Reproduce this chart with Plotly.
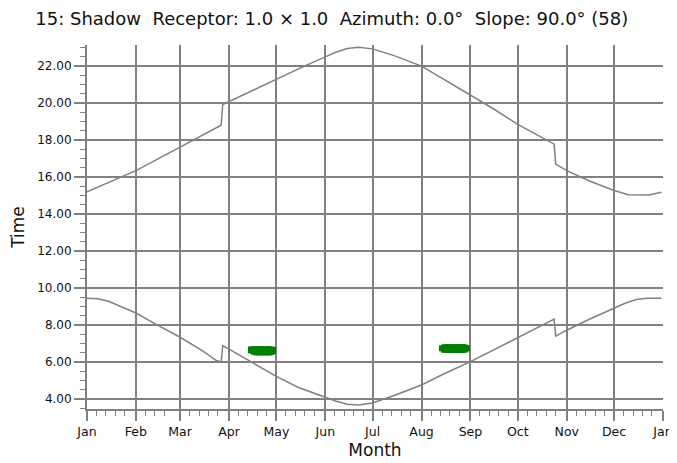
import plotly.graph_objects as go

# ---- data ----
sunset_dates = ["2021-01-01", "2021-01-15", "2021-02-01", "2021-02-15", "2021-03-01", "2021-03-15",
                "2021-03-27", "2021-03-28", "2021-04-01", "2021-04-15", "2021-05-01", "2021-05-15",
                "2021-06-01", "2021-06-08", "2021-06-15", "2021-06-22", "2021-07-01", "2021-07-08",
                "2021-07-15", "2021-08-01", "2021-08-15", "2021-09-01", "2021-09-15", "2021-10-01",
                "2021-10-15", "2021-10-24", "2021-10-25", "2021-11-01", "2021-11-15", "2021-12-01",
                "2021-12-10", "2021-12-23", "2021-12-31"]
sunset_times = [15.20, 15.70, 16.35, 16.98, 17.62, 18.22,
                18.80, 19.92, 20.08, 20.68, 21.30, 21.85,
                22.50, 22.76, 22.95, 23.02, 22.93, 22.75,
                22.55, 22.00, 21.30, 20.45, 19.72, 18.85,
                18.20, 17.78, 16.70, 16.35, 15.80, 15.27,
                15.05, 15.03, 15.18]

sunrise_dates = ["2021-01-01", "2021-01-08", "2021-01-15", "2021-02-01", "2021-02-15", "2021-03-01",
                 "2021-03-15", "2021-03-24", "2021-03-27", "2021-03-28", "2021-04-01", "2021-04-15",
                 "2021-05-01", "2021-05-15", "2021-06-01", "2021-06-08", "2021-06-15", "2021-06-22",
                 "2021-07-01", "2021-07-08", "2021-07-15", "2021-08-01", "2021-08-15", "2021-09-01",
                 "2021-09-15", "2021-10-01", "2021-10-15", "2021-10-24", "2021-10-25", "2021-11-01",
                 "2021-11-15", "2021-12-01", "2021-12-08", "2021-12-15", "2021-12-22", "2021-12-31"]
sunrise_times = [9.45, 9.42, 9.27, 8.65, 7.98, 7.34,
                 6.62, 6.08, 6.00, 6.88, 6.70, 6.02,
                 5.22, 4.62, 4.10, 3.88, 3.72, 3.68,
                 3.78, 3.98, 4.20, 4.76, 5.35, 6.02,
                 6.62, 7.32, 7.92, 8.32, 7.40, 7.72,
                 8.30, 8.90, 9.18, 9.38, 9.45, 9.45]

shadow1_dates = ["2021-04-%02d" % d for d in range(14, 31)]
shadow1_start = [6.47, 6.45, 6.40, 6.36, 6.35, 6.35, 6.35, 6.35, 6.35, 6.35, 6.35, 6.35, 6.35, 6.35, 6.36, 6.38, 6.42]
shadow1_end = [6.84, 6.85, 6.86, 6.86, 6.86, 6.86, 6.86, 6.86, 6.86, 6.86, 6.86, 6.86, 6.86, 6.86, 6.85, 6.84, 6.82]

shadow2_dates = ["2021-08-%02d" % d for d in range(13, 32)]
shadow2_start = [6.58, 6.52, 6.50, 6.49, 6.49, 6.49, 6.49, 6.49, 6.49, 6.49, 6.49, 6.49, 6.49, 6.49, 6.49, 6.49, 6.50, 6.52, 6.58]
shadow2_end = [6.90, 6.94, 6.96, 6.97, 6.97, 6.97, 6.97, 6.97, 6.97, 6.97, 6.97, 6.97, 6.97, 6.97, 6.97, 6.97, 6.96, 6.94, 6.90]

title_text = "15: Shadow\u00a0\u00a0Receptor: 1.0 × 1.0\u00a0\u00a0Azimuth: 0.0°\u00a0\u00a0Slope: 90.0° (58)"

# ---- figure ----
GRID = "#808080"
LINE = "#808080"
GREEN = "#007f00"
TXT = "#111111"
FONT = "DejaVu Sans, Verdana, sans-serif"

fig = go.Figure()
for d, s, e in [(shadow1_dates, shadow1_start, shadow1_end), (shadow2_dates, shadow2_start, shadow2_end)]:
    fig.add_trace(go.Bar(x=d, y=[b - a for a, b in zip(s, e)], base=s, width=86400000,
                         marker=dict(color=GREEN, line=dict(width=0)), hoverinfo="skip"))
fig.add_trace(go.Scatter(x=sunset_dates, y=sunset_times, mode="lines",
                         line=dict(color=LINE, width=1.5), hoverinfo="skip"))
fig.add_trace(go.Scatter(x=sunrise_dates, y=sunrise_times, mode="lines",
                         line=dict(color=LINE, width=1.5), hoverinfo="skip"))

# minor tick positions on the x axis (about weekly within each month)
month_len = [31, 28, 31, 30, 31, 30, 31, 31, 30, 31, 30, 31]
minor_x = []
for m, n in enumerate(month_len, start=1):
    d = 7
    while d <= n - 4:
        minor_x.append("2021-%02d-%02d" % (m, d))
        d += 6

# the page body has an 8px margin, so the figure is sized to end at the window edge
fig.update_layout(
    width=669, height=455,
    margin=dict(l=79, r=14, t=37, b=54),
    paper_bgcolor="white", plot_bgcolor="white",
    showlegend=False,
    font=dict(family=FONT, color=TXT, size=12),
    title=dict(text=title_text, x=0.484, xanchor="center", y=1 - 11 / 455, yanchor="middle",
               yref="container", font=dict(size=18, color=TXT)),
    xaxis=dict(type="date", range=["2021-01-01", "2022-01-01"], tick0="2021-01-01", dtick="M1",
               tickformat="%b", ticks="outside", ticklen=10, tickwidth=1.5, tickcolor=GRID,
               showgrid=True, gridcolor=GRID, gridwidth=2, automargin=False,
               showline=True, linecolor=GRID, linewidth=2, zeroline=False,
               tickfont=dict(size=12.5, color=TXT),
               minor=dict(tickmode="array", tickvals=minor_x, ticks="outside", ticklen=5,
                          tickwidth=1.2, tickcolor=GRID, showgrid=False),
               title=dict(text="Month", font=dict(size=17, color=TXT), standoff=6)),
    yaxis=dict(range=[3.46, 23.14], tick0=0, dtick=2, tickformat=".2f",
               ticks="outside", ticklen=11, tickwidth=1.5, tickcolor=GRID,
               showgrid=True, gridcolor=GRID, gridwidth=2, automargin=False,
               showline=True, linecolor=GRID, linewidth=2, zeroline=False,
               tickfont=dict(size=12, color=TXT),
               minor=dict(dtick=0.5, ticks="outside", ticklen=5, tickwidth=1.2, tickcolor=GRID, showgrid=False),
               title=dict(text="Time", font=dict(size=17, color=TXT), standoff=12)),
    barmode="overlay",
)

fig.write_html("out.html")
